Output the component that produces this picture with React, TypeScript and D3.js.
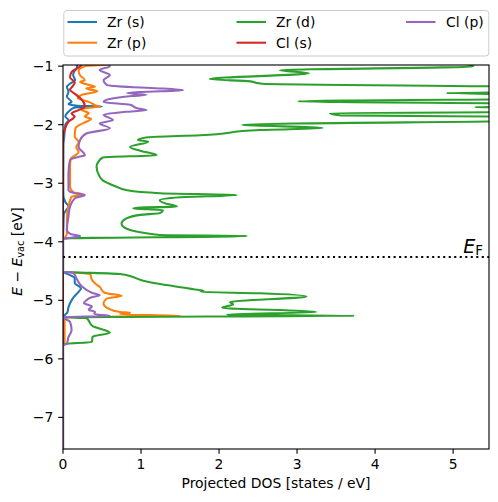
import React from 'react';
import * as d3 from 'd3';

// ---------- data (energy [eV], projected DOS [states/eV]) ----------
const seriesNames = ['Zr (s)', 'Zr (p)', 'Zr (d)', 'Cl (s)', 'Cl (p)'];
const seriesColors = ['#1f77b4', '#ff7f0e', '#2ca02c', '#d62728', '#9467bd'];

const zrS: [number, number][] = [
  [-0.9, 0.18], [-1.0, 0.18], [-1.04, 0.175], [-1.1, 0.14], [-1.15, 0.13], [-1.24, 0.155],
  [-1.3, 0.09], [-1.35, 0.05], [-1.44, 0.07], [-1.52, 0.05], [-1.61, 0.11], [-1.65, 0.07],
  [-1.675, 0.19], [-1.69, 0.5], [-1.705, 0.15], [-1.78, 0.07], [-1.86, 0.03], [-1.92, 0.07],
  [-2.0, 0.03], [-2.18, 0.017], [-2.35, 0.005], [-3.0, 0.003], [-3.22, 0.005], [-3.32, 0.03],
  [-3.4, 0.07], [-3.46, 0.04], [-3.54, 0.01], [-3.75, 0.005], [-3.95, 0], [-4.51, 0],
  [-4.57, 0.09], [-4.62, 0.15], [-4.7, 0.15], [-4.8, 0.23], [-4.855, 0.2], [-4.94, 0.14],
  [-5.05, 0.09], [-5.13, 0.068], [-5.2, 0.058], [-5.25, 0.026], [-5.29, 0.005], [-5.31, 0],
  [-7.6, 0],
];

const zrP: [number, number][] = [
  [-0.9, 0.6], [-0.975, 0.6], [-0.995, 0.3], [-1.08, 0.2], [-1.16, 0.22], [-1.24, 0.28],
  [-1.27, 0.22], [-1.31, 0.3], [-1.35, 0.41], [-1.38, 0.3], [-1.43, 0.44], [-1.49, 0.24],
  [-1.55, 0.19], [-1.61, 0.33], [-1.67, 0.42], [-1.69, 0.47], [-1.72, 0.28], [-1.75, 0.24],
  [-1.8, 0.33], [-1.86, 0.28], [-1.9, 0.36], [-1.95, 0.3], [-2.0, 0.22], [-2.06, 0.16],
  [-2.2, 0.15], [-2.3, 0.2], [-2.38, 0.17], [-2.47, 0.2], [-2.52, 0.16], [-2.58, 0.1],
  [-2.72, 0.09], [-3.06, 0.09], [-3.15, 0.13], [-3.2, 0.26], [-3.23, 0.11], [-3.4, 0.07],
  [-3.57, 0.05], [-3.85, 0.05], [-3.92, 0.03], [-3.95, 0], [-4.51, 0], [-4.55, 0.35],
  [-4.65, 0.37], [-4.71, 0.41], [-4.77, 0.47], [-4.86, 0.52], [-4.89, 0.6], [-4.92, 0.75],
  [-4.97, 0.56], [-5.06, 0.52], [-5.14, 0.58], [-5.2, 0.73], [-5.215, 0.86], [-5.24, 0.73],
  [-5.265, 1.5], [-5.29, 0.02], [-5.5, 0.02], [-5.75, 0.02], [-5.78, 0], [-7.6, 0],
];

const zrD: [number, number][] = [
  [-0.93, 5.0], [-1.005, 5.26], [-1.07, 2.78], [-1.12, 3.15], [-1.22, 1.88], [-1.26, 2.4],
  [-1.29, 2.5], [-1.3, 2.55], [-1.36, 6.2], [-1.43, 6.5], [-1.46, 4.91], [-1.49, 6.3],
  [-1.55, 6.8], [-1.6, 3.01], [-1.65, 6.4], [-1.685, 6.0], [-1.7, 5.28], [-1.715, 6.2],
  [-1.78, 6.6], [-1.8, 3.42], [-1.84, 3.55], [-1.87, 6.3], [-1.92, 6.5], [-2.0, 2.3],
  [-2.056, 3.33], [-2.09, 2.53], [-2.18, 1.76], [-2.215, 1.09], [-2.26, 0.96], [-2.29, 1.09],
  [-2.38, 0.86], [-2.45, 1.0], [-2.52, 1.2], [-2.56, 0.51], [-2.64, 0.45], [-2.72, 0.43],
  [-2.86, 0.46], [-2.95, 0.51], [-3.05, 0.67], [-3.12, 0.82], [-3.17, 1.24], [-3.2, 2.23],
  [-3.24, 1.5], [-3.29, 1.24], [-3.34, 1.3], [-3.4, 1.46], [-3.415, 1.0], [-3.43, 0.9],
  [-3.46, 1.28], [-3.51, 1.24], [-3.54, 0.99], [-3.61, 0.8], [-3.69, 0.75], [-3.75, 0.78],
  [-3.8, 0.86], [-3.85, 1.05], [-3.885, 1.24], [-3.9, 2.36], [-3.945, 0], [-4.51, 0],
  [-4.55, 0.73], [-4.68, 1.07], [-4.81, 1.67], [-4.835, 1.8], [-4.855, 1.76], [-4.88, 2.53],
  [-4.935, 3.12], [-5.03, 2.14], [-5.07, 2.18], [-5.125, 2.04], [-5.2, 3.25], [-5.245, 2.1],
  [-5.265, 3.74], [-5.29, 0.02], [-5.305, 0.3], [-5.44, 0.38], [-5.555, 0.6], [-5.62, 0.38],
  [-5.71, 0.37], [-5.75, 0], [-7.6, 0],
];

const clS: [number, number][] = [
  [-0.9, 0.24], [-0.97, 0.24], [-1.02, 0.2], [-1.1, 0.11], [-1.19, 0.09], [-1.28, 0.15],
  [-1.35, 0.12], [-1.4, 0.09], [-1.49, 0.17], [-1.57, 0.24], [-1.69, 0.28], [-1.75, 0.2],
  [-1.81, 0.11], [-1.86, 0.15], [-1.95, 0.07], [-2.1, 0.02], [-2.2, 0], [-7.6, 0],
];

const clP: [number, number][] = [
  [-0.9, 0.55], [-1.0, 0.6], [-1.065, 0.47], [-1.15, 0.6], [-1.24, 0.52], [-1.32, 0.56],
  [-1.36, 0.9], [-1.38, 1.24], [-1.41, 1.54], [-1.44, 1.0], [-1.46, 0.82], [-1.49, 1.07],
  [-1.51, 0.88], [-1.56, 0.6], [-1.61, 0.52], [-1.66, 0.86], [-1.72, 0.95], [-1.75, 1.07],
  [-1.78, 0.8], [-1.83, 0.52], [-1.92, 0.64], [-1.98, 0.47], [-2.06, 0.6], [-2.15, 0.3],
  [-2.26, 0.22], [-2.38, 0.2], [-2.52, 0.28], [-2.55, 0.2], [-2.6, 0.09], [-2.83, 0.07],
  [-3.12, 0.07], [-3.17, 0.15], [-3.2, 0.28], [-3.26, 0.15], [-3.4, 0.09], [-3.57, 0.07],
  [-3.8, 0.05], [-3.87, 0.1], [-3.9, 0.22], [-3.93, 0.1], [-3.95, 0], [-4.51, 0],
  [-4.53, 0.13], [-4.62, 0.17], [-4.76, 0.24], [-4.82, 0.3], [-4.87, 0.37], [-4.915, 0.47],
  [-4.95, 0.36], [-5.0, 0.3], [-5.05, 0.27], [-5.105, 0.37], [-5.16, 0.33], [-5.2, 0.41],
  [-5.235, 0.4], [-5.265, 0.6], [-5.29, 0], [-5.31, 0.02], [-5.37, 0.09], [-5.51, 0.11],
  [-5.63, 0.07], [-5.74, 0.05], [-5.77, 0], [-7.6, 0],
];

const seriesData = [zrS, zrP, zrD, clS, clP];

const xTicks = [0, 1, 2, 3, 4, 5];
const yTicks = [-1, -2, -3, -4, -5, -6, -7];
const xDomain: [number, number] = [0, 5.46];
const yDomain: [number, number] = [-0.98, -7.54];
const fermiLevel = -4.26;

// ---------- layout ----------
const W = 498;
const H = 502;
const L = 63, R = 489, T = 65, B = 449;
const FONT = 'DejaVu Sans, sans-serif';
const FS = 13.9;

export default function App() {
  const x = d3.scaleLinear().domain(xDomain).range([L, R]);
  const y = d3.scaleLinear().domain(yDomain).range([T, B]);
  const line = d3
    .line<[number, number]>()
    .x((d) => x(d[1]))
    .y((d) => y(d[0]))
    .curve(d3.curveMonotoneY);

  const legendCols = [
    { hx: 67.5, tx: 107 },
    { hx: 236.5, tx: 276 },
    { hx: 406, tx: 446 },
  ];
  const legendRows = [22, 42.7];

  return (
    <svg
      width={W}
      height={H}
      style={{ position: 'absolute', left: 0, top: 0, background: '#fff' }}
      fontFamily={FONT}
    >
      <defs>
        <clipPath id="axclip">
          <rect x={L} y={T} width={R - L} height={B - T} />
        </clipPath>
      </defs>
      <rect x={0} y={0} width={W} height={H} fill="#fff" />

      <g clipPath="url(#axclip)">
        {seriesData.map((d, i) => (
          <path
            key={seriesNames[i]}
            d={line(d) || ''}
            fill="none"
            stroke={seriesColors[i]}
            strokeWidth={2.08}
            strokeLinejoin="round"
            strokeLinecap="butt"
          />
        ))}
        <line
          x1={L}
          x2={R}
          y1={y(fermiLevel)}
          y2={y(fermiLevel)}
          stroke="#000"
          strokeWidth={2.08}
          strokeDasharray="2.08 3.43"
        />
      </g>

      {/* E_F label */}
      <text x={483} y={252.5} textAnchor="end" fontSize={19} fill="#000">
        <tspan fontStyle="italic">E</tspan>
        <tspan fontSize={13.3} dy={2.5}>F</tspan>
      </text>

      {/* spines */}
      <rect x={L} y={T} width={R - L} height={B - T} fill="none" stroke="#000" strokeWidth={1.11} />

      {/* x ticks */}
      {xTicks.map((t) => (
        <g key={'x' + t}>
          <line x1={x(t)} x2={x(t)} y1={B} y2={B + 4.86} stroke="#000" strokeWidth={1.11} />
          <text x={x(t)} y={B + 20} textAnchor="middle" fontSize={FS} fill="#000">
            {t}
          </text>
        </g>
      ))}
      {/* y ticks */}
      {yTicks.map((t) => (
        <g key={'y' + t}>
          <line x1={L - 4.86} x2={L} y1={y(t)} y2={y(t)} stroke="#000" strokeWidth={1.11} />
          <text x={53.3} y={y(t) + 5} textAnchor="end" fontSize={FS} fill="#000">
            {'\u2212' + Math.abs(t)}
          </text>
        </g>
      ))}

      {/* axis labels */}
      <text x={(L + R) / 2} y={488.3} textAnchor="middle" fontSize={FS} fill="#000">
        Projected DOS [states / eV]
      </text>
      <text transform="translate(21.5,251.5) rotate(-90)" textAnchor="middle" fontSize={FS} fill="#000">
        <tspan fontStyle="italic">E</tspan>
        <tspan>{' \u2212 '}</tspan>
        <tspan fontStyle="italic">E</tspan>
        <tspan fontSize={9.7} dy={2.5}>vac</tspan>
        <tspan dy={-2.5}>{' [eV]'}</tspan>
      </text>

      {/* legend */}
      <rect
        x={63.8}
        y={10.5}
        width={425}
        height={45.5}
        rx={3}
        fill="#fff"
        fillOpacity={0.8}
        stroke="#cccccc"
        strokeWidth={1}
      />
      {seriesNames.map((name, i) => {
        const col = Math.floor(i / 2);
        const row = i % 2;
        const c = legendCols[col];
        const ry = legendRows[row];
        return (
          <g key={'leg' + name}>
            <line x1={c.hx} x2={c.hx + 29.5} y1={ry} y2={ry} stroke={seriesColors[i]} strokeWidth={2.08} />
            <text x={c.tx} y={ry + 5} fontSize={FS} fill="#000">
              {name}
            </text>
          </g>
        );
      })}
    </svg>
  );
}
